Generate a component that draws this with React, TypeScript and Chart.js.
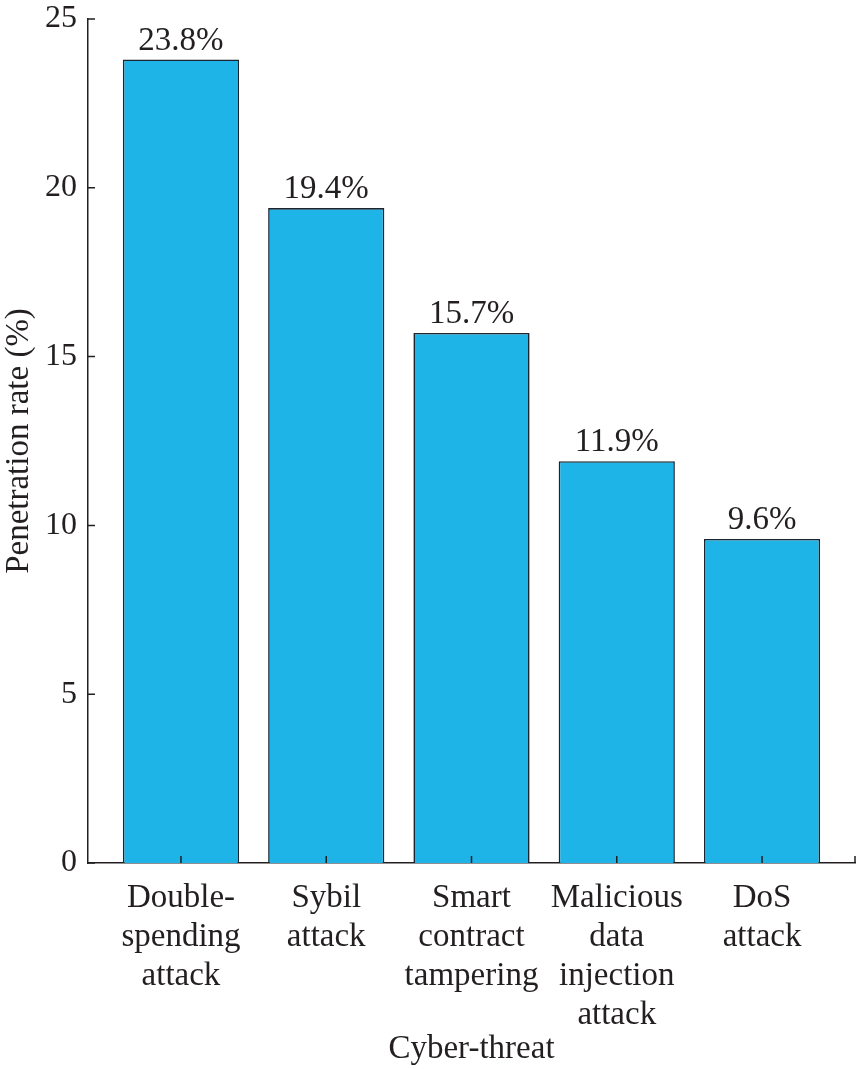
import { useEffect, useRef } from "react"
import { Chart, registerables } from "chart.js"

Chart.register(...registerables)

const categories = [
  ["Double-", "spending", "attack"],
  ["Sybil", "attack"],
  ["Smart", "contract", "tampering"],
  ["Malicious", "data", "injection", "attack"],
  ["DoS", "attack"],
]
const penetrationRate = [23.8, 19.4, 15.7, 11.9, 9.6]
const yTicks = [0, 5, 10, 15, 20, 25]

const FONT = "'Liberation Serif', 'Times New Roman', serif"
const INK = "#231f20"

// ticks point into the plot, like the original figure
const innerTicks = {
  id: "innerTicks",
  afterDraw(chart: any) {
    const { ctx, scales } = chart
    const x = scales.x
    const y = scales.y
    ctx.save()
    ctx.strokeStyle = INK
    ctx.lineWidth = 1.5
    ctx.beginPath()
    yTicks.forEach((v) => {
      const py = y.getPixelForValue(v)
      ctx.moveTo(x.left, py)
      ctx.lineTo(x.left + 7, py)
    })
    const xs = categories.map((_, i) => i).concat([x.max])
    xs.forEach((v) => {
      const px = x.getPixelForValue(v)
      ctx.moveTo(px, y.bottom)
      ctx.lineTo(px, y.bottom - 7)
    })
    ctx.stroke()
    ctx.restore()
  },
}

const valueLabels = {
  id: "valueLabels",
  afterDatasetsDraw(chart: any) {
    const { ctx } = chart
    const meta = chart.getDatasetMeta(0)
    ctx.save()
    ctx.font = `33px ${FONT}`
    ctx.fillStyle = INK
    ctx.textAlign = "center"
    ctx.textBaseline = "alphabetic"
    meta.data.forEach((bar: any, i: number) => {
      ctx.fillText(`${penetrationRate[i]}%`, bar.x, bar.y - 10)
    })
    ctx.restore()
  },
}

export default function App() {
  const chartRef = useRef<HTMLCanvasElement>(null)
  const chartInstance = useRef<Chart | null>(null)

  useEffect(() => {
    document.body.style.margin = "0"
    const canvas = chartRef.current
    if (!canvas) return
    const ctx = canvas.getContext("2d")
    if (!ctx) return

    if (chartInstance.current) chartInstance.current.destroy()

    chartInstance.current = new Chart(ctx, {
      type: "bar",
      data: {
        datasets: [
          {
            label: "Penetration rate",
            data: penetrationRate.map((v, i) => ({ x: i, y: v })),
            backgroundColor: "#1eb4e8",
            borderColor: "#1a2530",
            borderWidth: 1.6,
            barPercentage: 0.8,
            categoryPercentage: 1,
          },
        ],
      },
      options: {
        animation: false,
        responsive: true,
        maintainAspectRatio: false,
        layout: { padding: { top: 19, right: 2, left: 0, bottom: 0 } },
        plugins: {
          legend: { display: false },
          tooltip: { enabled: false },
        },
        scales: {
          x: {
            type: "linear",
            min: -0.64,
            max: 4.64,
            offset: false,
            grid: { display: false, drawTicks: false },
            border: { display: true, color: INK, width: 1.5 },
            afterBuildTicks: (scale: any) => {
              scale.ticks = categories.map((_, i) => ({ value: i }))
            },
            afterFit: (scale: any) => {
              scale.height = 206
              scale.paddingLeft = 0
              scale.paddingRight = 0
            },
            ticks: {
              autoSkip: false,
              maxRotation: 0,
              padding: 16,
              color: INK,
              font: { family: FONT, size: 33, lineHeight: 1.18 },
              callback: (value: any) => categories[value as number],
            },
            title: {
              display: true,
              text: "Cyber-threat",
              color: INK,
              font: { family: FONT, size: 33, lineHeight: 1.2 },
              padding: { top: 0, bottom: 0 },
            },
          },
          y: {
            min: 0,
            max: 25,
            grid: { display: false, drawTicks: false },
            border: { display: true, color: INK, width: 1.5 },
            afterBuildTicks: (scale: any) => {
              scale.ticks = yTicks.map((v) => ({ value: v }))
            },
            afterFit: (scale: any) => {
              scale.width = 88
              scale.paddingTop = 0
              scale.paddingBottom = 0
            },
            ticks: {
              padding: 11,
              color: INK,
              font: { family: FONT, size: 32 },
            },
            title: {
              display: true,
              text: "Penetration rate (%)",
              color: INK,
              font: { family: FONT, size: 33, lineHeight: 1.2 },
              padding: { top: 0, bottom: 0 },
            },
          },
        },
      },
      plugins: [innerTicks, valueLabels],
    })

    return () => {
      if (chartInstance.current) {
        chartInstance.current.destroy()
        chartInstance.current = null
      }
    }
  }, [])

  return (
    <div style={{ width: 857, height: 1069, background: "#fff" }}>
      <canvas ref={chartRef} />
    </div>
  )
}
